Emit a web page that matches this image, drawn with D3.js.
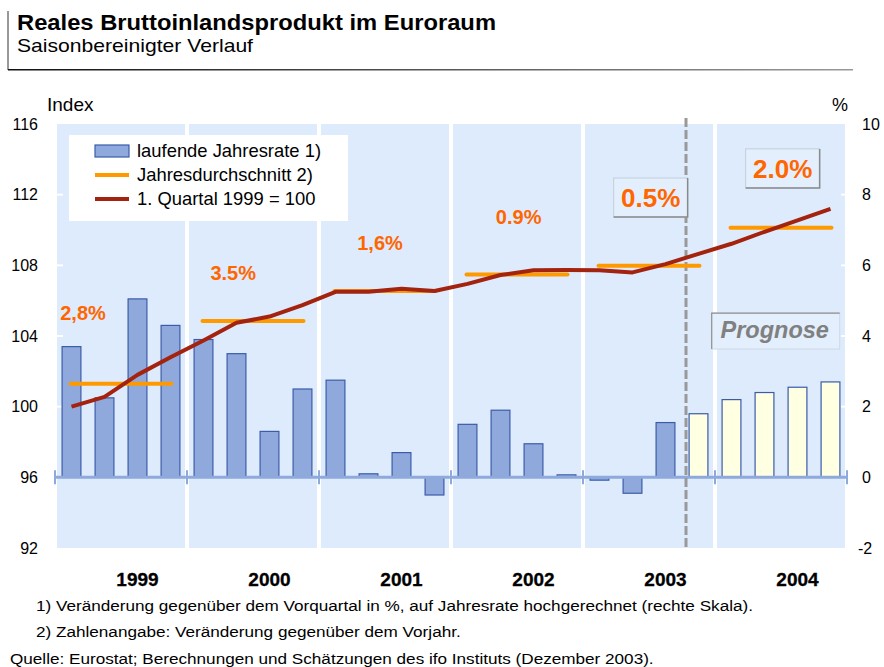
<!DOCTYPE html>
<html>
<head>
<meta charset="utf-8">
<script src="https://cdn.jsdelivr.net/npm/d3@7"></script>
<style>
  body { margin: 0; background: #fff; }
  svg { display: block; font-family: "Liberation Sans", Arial, sans-serif; }
</style>
</head>
<body>
<svg id="chart" width="884" height="667"></svg>
<script>
// Chart data
const years = ["1999", "2000", "2001", "2002", "2003", "2004"];
const quarters = years.flatMap(y => ["Q1", "Q2", "Q3", "Q4"].map(q => y + q));

// laufende Jahresrate (%), right axis
const annualRate = [3.7, 2.25, 5.05, 4.3, 3.9, 3.5, 1.3, 2.5,
                    2.75, 0.1, 0.7, -0.5, 1.5, 1.9, 0.95, 0.07,
                    -0.08, -0.45, 1.55, 1.8, 2.2, 2.4, 2.55, 2.7];
// index, 1. Quartal 1999 = 100, left axis
const indexLevel = [100.0, 100.55, 101.8, 102.8, 103.75, 104.75, 105.1, 105.75,
                    106.5, 106.5, 106.68, 106.55, 106.95, 107.45, 107.72, 107.73,
                    107.72, 107.6, 108.07, 108.65, 109.22, 109.9, 110.55, 111.2];
// Jahresdurchschnitt (index level), left axis
const annualAvg = [101.3, 104.85, 106.55, 107.48, 107.98, 110.13];
const growthLabels = ["2,8%", "3.5%", "1,6%", "0.9%", "0.5%", "2.0%"];
const forecastFrom = 19; // first forecast quarter (2003 Q4)

const leftTicks = [92, 96, 100, 104, 108, 112, 116];
const rightTicks = [-2, 0, 2, 4, 6, 8, 10];

// Annotation placement: [quarter offset within chart, index level of baseline, font size, boxed]
const labelPlace = [[0.85, 104.9, 20, false], [5.4, 107.15, 20, false], [9.85, 108.85, 20, false],
                    [14.05, 110.35, 20, false], [18.05, 111.3, 26, true], [22.05, 112.95, 26, true]];

const svg = d3.select("#chart");
const plotL = 55, plotR = 847, plotT = 124, plotB = 548;

const x = d3.scaleBand().domain(quarters).range([plotL, plotR]).padding(0);
const step = x.step();
const xq = i => plotL + i * step; // fractional quarter position
const yL = d3.scaleLinear().domain([92, 116]).range([plotB, plotT]);
const yR = d3.scaleLinear().domain([-2, 10]).range([plotB, plotT]);

// header
const grad = svg.append("defs").append("linearGradient").attr("id", "hdr");
grad.append("stop").attr("offset", "0%").attr("stop-color", "#111");
grad.append("stop").attr("offset", "100%").attr("stop-color", "#999");
svg.append("line").attr("x1", 8).attr("x2", 8).attr("y1", 11).attr("y2", 70)
    .attr("stroke", "#333").attr("stroke-width", 1);
svg.append("rect").attr("x", 8).attr("y", 69).attr("width", 845).attr("height", 1.5)
    .attr("fill", "url(#hdr)");
svg.append("text").attr("x", 17).attr("y", 30).text("Reales Bruttoinlandsprodukt im Euroraum")
    .attr("font-size", 22).attr("font-weight", "bold").attr("fill", "#000")
    .attr("textLength", 479).attr("lengthAdjust", "spacingAndGlyphs");
svg.append("text").attr("x", 17).attr("y", 52).text("Saisonbereinigter Verlauf")
    .attr("font-size", 19).attr("fill", "#000")
    .attr("textLength", 236).attr("lengthAdjust", "spacingAndGlyphs");

// year panels
svg.append("g").selectAll("rect")
    .data(years)
    .join("rect")
    .attr("x", d => x(d + "Q1") + 2)
    .attr("y", plotT)
    .attr("width", 4 * step - 4)
    .attr("height", plotB - plotT)
    .attr("fill", "#ddebfd");

// white tick marks at plot edges
svg.append("g").selectAll("line").data(leftTicks.slice(1, -1)).join("line")
    .attr("x1", plotL + 2).attr("x2", plotL + 8)
    .attr("y1", d => yL(d)).attr("y2", d => yL(d))
    .attr("stroke", "#fff").attr("stroke-width", 2);
svg.append("g").selectAll("line").data(rightTicks.slice(1, -1)).join("line")
    .attr("x1", plotR - 6).attr("x2", plotR)
    .attr("y1", d => yR(d)).attr("y2", d => yR(d))
    .attr("stroke", "#fff").attr("stroke-width", 2);

// bars
const bw = step * 0.57;
svg.append("g").selectAll("rect")
    .data(annualRate)
    .join("rect")
    .attr("x", (d, i) => x(quarters[i]) + (step - bw) / 2)
    .attr("y", d => yR(Math.max(0, d)))
    .attr("width", bw)
    .attr("height", d => Math.abs(yR(d) - yR(0)))
    .attr("fill", (d, i) => i >= forecastFrom ? "#ffffe2" : "#8fa9dc")
    .attr("stroke", "#3b5ca8")
    .attr("stroke-width", 1.2);

// zero axis with year ticks
const y0 = yR(0);
svg.append("line").attr("x1", plotL).attr("x2", plotR).attr("y1", y0).attr("y2", y0)
    .attr("stroke", "#8ea9dc").attr("stroke-width", 3);
svg.append("g").selectAll("line")
    .data(d3.range(years.length + 1))
    .join("line")
    .attr("x1", i => plotL + i * 4 * step).attr("x2", i => plotL + i * 4 * step)
    .attr("y1", y0 - 7).attr("y2", y0 + 7)
    .attr("stroke", "#8ea9dc").attr("stroke-width", 2);

// forecast divider
const fx = x(quarters[forecastFrom]) + 4;
svg.append("line").attr("x1", fx).attr("x2", fx).attr("y1", 118).attr("y2", plotB)
    .attr("stroke", "#999").attr("stroke-width", 3).attr("stroke-dasharray", "9,3");

// annual averages
svg.append("g").selectAll("line")
    .data(annualAvg)
    .join("line")
    .attr("x1", (d, i) => x(years[i] + "Q1") + step / 2 - 1)
    .attr("x2", (d, i) => x(years[i] + "Q4") + step / 2 + 1)
    .attr("y1", d => yL(d)).attr("y2", d => yL(d))
    .attr("stroke", "#ff9900").attr("stroke-width", 4).attr("stroke-linecap", "round");

// index line
const line = d3.line().x((d, i) => x(quarters[i]) + step / 2).y(d => yL(d));
svg.append("path").datum(indexLevel)
    .attr("d", line)
    .attr("fill", "none")
    .attr("stroke", "#a3230f")
    .attr("stroke-width", 4)
    .attr("stroke-linejoin", "round");

// growth labels
growthLabels.forEach((t, i) => {
    const [qo, lvl, fs, boxed] = labelPlace[i];
    const cx = xq(qo), by = yL(lvl);
    if (boxed) {
        const w = 74, h = 39;
        svg.append("rect").attr("x", cx - w / 2).attr("y", by - 29).attr("width", w).attr("height", h)
            .attr("fill", "#e3effd").attr("stroke", "#c4cdd8").attr("stroke-width", 1);
        svg.append("path")
            .attr("d", `M${cx + w / 2},${by - 29}V${by + 10}H${cx - w / 2}`)
            .attr("fill", "none").attr("stroke", "#8a8a8a").attr("stroke-width", 1.5);
    }
    svg.append("text").attr("x", cx).attr("y", by).text(t)
        .attr("text-anchor", "middle").attr("font-size", fs).attr("font-weight", "bold")
        .attr("fill", "#ff6600");
});

// Prognose box
const px = xq(19.9), py = yR(4.65);
svg.append("rect").attr("x", px).attr("y", py).attr("width", 128).attr("height", 36)
    .attr("fill", "#e3effd").attr("stroke", "#d0d8e4").attr("stroke-width", 1);
svg.append("path").attr("d", `M${px},${py + 36}V${py}H${px + 128}`)
    .attr("fill", "none").attr("stroke", "#909090").attr("stroke-width", 1.2);
svg.append("text").attr("x", px + 63).attr("y", py + 25).text("Prognose")
    .attr("text-anchor", "middle").attr("font-size", 23.5).attr("font-weight", "bold")
    .attr("font-style", "italic").attr("fill", "#808080");

// legend
const lg = svg.append("g").attr("transform", "translate(69,135)");
lg.append("rect").attr("width", 279).attr("height", 86).attr("fill", "#fff");
const legendItems = ["laufende Jahresrate 1)", "Jahresdurchschnitt 2)", "1. Quartal 1999 = 100"];
legendItems.forEach((t, i) => {
    const ly = 16 + i * 24;
    if (i === 0) {
        lg.append("rect").attr("x", 26).attr("y", ly - 6).attr("width", 34).attr("height", 12)
            .attr("fill", "#8fa9dc").attr("stroke", "#3b5ca8").attr("stroke-width", 1.2);
    } else {
        lg.append("line").attr("x1", 26).attr("x2", 60).attr("y1", ly).attr("y2", ly)
            .attr("stroke", i === 1 ? "#ff9900" : "#a3230f").attr("stroke-width", 4);
    }
    lg.append("text").attr("x", 68).attr("y", ly).attr("dy", "0.35em").text(t)
        .attr("font-size", 18.4).attr("fill", "#000");
});

// axes labels
svg.append("g").selectAll("text").data(leftTicks).join("text")
    .attr("x", 38).attr("y", d => yL(d)).attr("dy", "0.35em")
    .attr("text-anchor", "end").attr("font-size", 16).text(d => d);
svg.append("g").selectAll("text").data(rightTicks).join("text")
    .attr("x", d => d < 0 ? 858 : 862).attr("y", d => yR(d)).attr("dy", "0.35em")
    .attr("font-size", 16).text(d => d);
svg.append("text").attr("x", 47).attr("y", 111).text("Index").attr("font-size", 19);
svg.append("text").attr("x", 848).attr("y", 111).text("%").attr("font-size", 18)
    .attr("text-anchor", "end");

// year labels
svg.append("g").selectAll("text").data(years).join("text")
    .attr("x", d => x(d + "Q3") + step / 2)
    .attr("y", 586)
    .attr("text-anchor", "middle")
    .attr("font-size", 19).attr("font-weight", "bold")
    .attr("stroke", "#000").attr("stroke-width", 0.3)
    .text(d => d);

// footnotes (reference typeface runs a little wider than Liberation Sans)
const notes = [
    [36, 611, "1) Veränderung gegenüber dem Vorquartal in %, auf Jahresrate hochgerechnet (rechte Skala)."],
    [36, 637, "2) Zahlenangabe: Veränderung gegenüber dem Vorjahr."],
    [10, 664, "Quelle: Eurostat; Berechnungen und Schätzungen des ifo Instituts (Dezember 2003)."]
];
svg.append("g").selectAll("text").data(notes).join("text")
    .attr("x", d => d[0]).attr("y", d => d[1])
    .attr("font-size", 15.5).attr("fill", "#000")
    .text(d => d[2])
    .each(function () {
        const len = this.getComputedTextLength();
        d3.select(this).attr("textLength", len * 1.105).attr("lengthAdjust", "spacingAndGlyphs");
    });
</script>
</body>
</html>
